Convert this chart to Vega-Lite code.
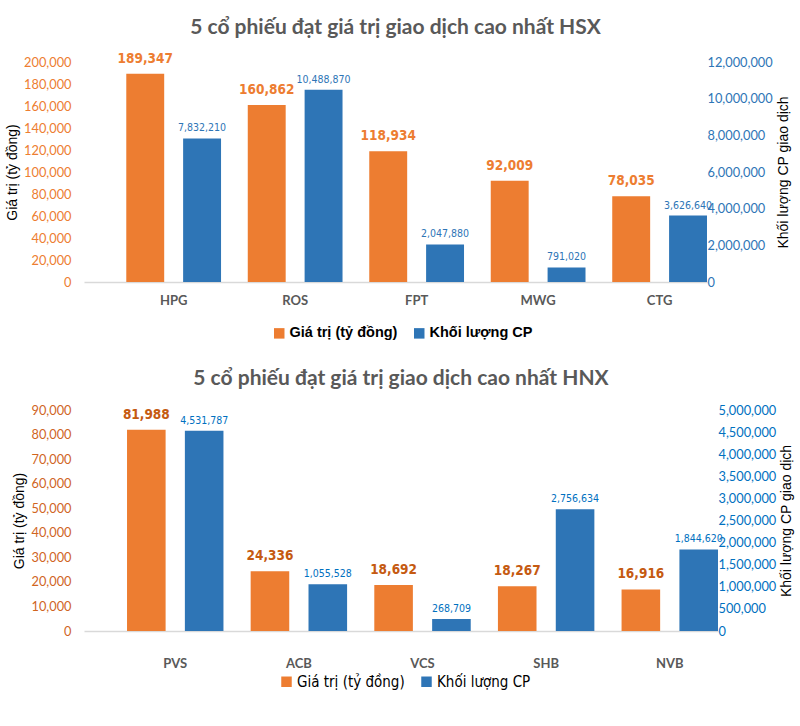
{
  "$schema": "https://vega.github.io/schema/vega-lite/v6.json",
  "background": "white",
  "padding": {"left": 5, "top": 16, "right": 5, "bottom": 5},
  "datasets": {
    "hsx": [
      {"ticker": "HPG", "series": "Giá trị (tỷ đồng)", "value": 189347},
      {"ticker": "HPG", "series": "Khối lượng CP", "value": 7832210},
      {"ticker": "ROS", "series": "Giá trị (tỷ đồng)", "value": 160862},
      {"ticker": "ROS", "series": "Khối lượng CP", "value": 10488870},
      {"ticker": "FPT", "series": "Giá trị (tỷ đồng)", "value": 118934},
      {"ticker": "FPT", "series": "Khối lượng CP", "value": 2047880},
      {"ticker": "MWG", "series": "Giá trị (tỷ đồng)", "value": 92009},
      {"ticker": "MWG", "series": "Khối lượng CP", "value": 791020},
      {"ticker": "CTG", "series": "Giá trị (tỷ đồng)", "value": 78035},
      {"ticker": "CTG", "series": "Khối lượng CP", "value": 3626640}
    ],
    "hnx": [
      {"ticker": "PVS", "series": "Giá trị (tỷ đồng)", "value": 81988},
      {"ticker": "PVS", "series": "Khối lượng CP", "value": 4531787},
      {"ticker": "ACB", "series": "Giá trị (tỷ đồng)", "value": 24336},
      {"ticker": "ACB", "series": "Khối lượng CP", "value": 1055528},
      {"ticker": "VCS", "series": "Giá trị (tỷ đồng)", "value": 18692},
      {"ticker": "VCS", "series": "Khối lượng CP", "value": 268709},
      {"ticker": "SHB", "series": "Giá trị (tỷ đồng)", "value": 18267},
      {"ticker": "SHB", "series": "Khối lượng CP", "value": 2756634},
      {"ticker": "NVB", "series": "Giá trị (tỷ đồng)", "value": 16916},
      {"ticker": "NVB", "series": "Khối lượng CP", "value": 1844620}
    ]
  },
  "config": {
    "view": {"stroke": null},
    "font": "Liberation Sans",
    "axis": {"grid": false, "ticks": false, "domain": false, "labelFont": "Lato", "labelFontSize": 12.8, "titleFont": "Liberation Sans", "titleFontWeight": "normal", "titleFontSize": 14, "titleColor": "#000000"},
    "title": {"font": "Lato", "fontSize": 21, "fontWeight": "bold", "color": "#595959", "anchor": "middle"}
  },
  "columns": 1,
  "align": "none",
  "spacing": 28,
  "resolve": {"scale": {"color": "independent", "x": "independent", "y": "independent", "xOffset": "independent"}},
  "concat": [
    {
      "title": {"text": "5 cổ phiếu đạt giá trị giao dịch cao nhất HSX", "offset": 14},
      "data": {"name": "hsx"},
      "width": 623,
      "height": 220,
      "encoding": {
        "x": {"field": "ticker", "type": "nominal", "sort": null,
          "scale": {"paddingInner": 0.22, "paddingOuter": 0.174, "align": 1},
          "axis": {"title": null, "labelAngle": 0, "domain": true, "domainColor": "#d9d9d9", "domainWidth": 1.5, "labelFontWeight": "bold", "labelColor": "#595959", "labelFontSize": 13, "labelPadding": 12}},
        "xOffset": {"field": "series", "type": "nominal", "sort": ["Giá trị (tỷ đồng)", "Khối lượng CP"], "scale": {"domain": ["Giá trị (tỷ đồng)", "Khối lượng CP"], "paddingInner": 0.333, "paddingOuter": 0}}
      },
      "layer": [
        {
          "transform": [{"filter": {"field": "series", "equal": "Giá trị (tỷ đồng)"}}],
          "encoding": {
            "y": {"field": "value", "type": "quantitative", "scale": {"domain": [0, 200000]},
              "axis": {"orient": "left", "title": "Giá trị (tỷ đồng)", "values": [0, 20000, 40000, 60000, 80000, 100000, 120000, 140000, 160000, 180000, 200000], "format": ",d", "labelColor": "#ED7D31", "labelPadding": 13, "titlePadding": 4}}
          },
          "layer": [
            {"mark": {"type": "bar"},
              "encoding": {"color": {"field": "series", "type": "nominal",
                "scale": {"domain": ["Giá trị (tỷ đồng)", "Khối lượng CP"], "range": ["#ED7D31", "#2E75B6"]},
                "legend": {"title": null, "orient": "none", "direction": "horizontal", "legendX": 188, "legendY": 264, "symbolType": "square", "symbolSize": 110, "symbolStrokeWidth": 0, "labelFont": "Liberation Sans", "labelFontWeight": "bold", "labelFontSize": 14.5, "labelColor": "#000000", "columnPadding": 14, "labelOffset": 3}}}},
            {"mark": {"type": "text", "dy": -15, "font": "DejaVu Sans Condensed, Roboto Condensed, Roboto, sans-serif", "fontWeight": "bold", "fontSize": 13.5},
              "encoding": {"text": {"field": "value", "type": "quantitative", "format": ","}, "color": {"value": "#ED7D31"}}}
          ]
        },
        {
          "transform": [{"filter": {"field": "series", "equal": "Khối lượng CP"}}],
          "encoding": {
            "y": {"field": "value", "type": "quantitative", "scale": {"domain": [0, 12000000]},
              "axis": {"orient": "right", "title": "Khối lượng CP giao dịch", "titleAngle": 270, "titleBaseline": "top", "values": [0, 2000000, 4000000, 6000000, 8000000, 10000000, 12000000], "format": ",d", "labelColor": "#2E75B6", "labelPadding": 0, "titlePadding": 4}}
          },
          "layer": [
            {"mark": {"type": "bar"},
              "encoding": {"color": {"field": "series", "type": "nominal", "scale": {"domain": ["Giá trị (tỷ đồng)", "Khối lượng CP"], "range": ["#ED7D31", "#2E75B6"]}}}},
            {"mark": {"type": "text", "dy": -10, "font": "DejaVu Sans Condensed, Roboto Condensed, Roboto, sans-serif", "fontSize": 10.5},
              "encoding": {"text": {"field": "value", "type": "quantitative", "format": ","}, "color": {"value": "#2E75B6"}}}
          ]
        }
      ],
      "resolve": {"scale": {"y": "independent"}}
    },
    {
      "title": {"text": "5 cổ phiếu đạt giá trị giao dịch cao nhất HNX", "offset": 15},
      "data": {"name": "hnx"},
      "width": 634,
      "height": 221,
      "encoding": {
        "x": {"field": "ticker", "type": "nominal", "sort": null,
          "scale": {"paddingInner": 0.22, "paddingOuter": 0.174, "align": 1},
          "axis": {"title": null, "labelAngle": 0, "domain": true, "domainColor": "#d9d9d9", "domainWidth": 1.5, "labelFontWeight": "bold", "labelColor": "#595959", "labelFontSize": 13, "labelPadding": 26}},
        "xOffset": {"field": "series", "type": "nominal", "sort": ["Giá trị (tỷ đồng)", "Khối lượng CP"], "scale": {"domain": ["Giá trị (tỷ đồng)", "Khối lượng CP"], "paddingInner": 0.333, "paddingOuter": 0}}
      },
      "layer": [
        {
          "transform": [{"filter": {"field": "series", "equal": "Giá trị (tỷ đồng)"}}],
          "encoding": {
            "y": {"field": "value", "type": "quantitative", "scale": {"domain": [0, 90000]},
              "axis": {"orient": "left", "title": "Giá trị (tỷ đồng)", "values": [0, 10000, 20000, 30000, 40000, 50000, 60000, 70000, 80000, 90000], "format": ",d", "labelColor": "#D0651F", "labelPadding": 13, "titlePadding": 4}}
          },
          "layer": [
            {"mark": {"type": "bar"},
              "encoding": {"color": {"field": "series", "type": "nominal",
                "scale": {"domain": ["Giá trị (tỷ đồng)", "Khối lượng CP"], "range": ["#ED7D31", "#2E75B6"]},
                "legend": {"title": null, "orient": "none", "direction": "horizontal", "legendX": 195, "legendY": 264, "symbolType": "square", "symbolSize": 110, "symbolStrokeWidth": 0, "labelFont": "DejaVu Sans Condensed, Roboto Condensed, Roboto, sans-serif", "labelFontSize": 15, "labelColor": "#000000", "columnPadding": 14, "labelOffset": 3}}}},
            {"mark": {"type": "text", "dy": -15, "font": "DejaVu Sans Condensed, Roboto Condensed, Roboto, sans-serif", "fontWeight": "bold", "fontSize": 13.5},
              "encoding": {"text": {"field": "value", "type": "quantitative", "format": ","}, "color": {"value": "#C55A11"}}}
          ]
        },
        {
          "transform": [{"filter": {"field": "series", "equal": "Khối lượng CP"}}],
          "encoding": {
            "y": {"field": "value", "type": "quantitative", "scale": {"domain": [0, 5000000]},
              "axis": {"orient": "right", "title": "Khối lượng CP giao dịch", "titleAngle": 270, "titleBaseline": "top", "values": [0, 500000, 1000000, 1500000, 2000000, 2500000, 3000000, 3500000, 4000000, 4500000, 5000000], "format": ",d", "labelColor": "#0070C0", "labelPadding": 0, "titlePadding": 4}}
          },
          "layer": [
            {"mark": {"type": "bar"},
              "encoding": {"color": {"field": "series", "type": "nominal", "scale": {"domain": ["Giá trị (tỷ đồng)", "Khối lượng CP"], "range": ["#ED7D31", "#2E75B6"]}}}},
            {"mark": {"type": "text", "dy": -10, "font": "DejaVu Sans Condensed, Roboto Condensed, Roboto, sans-serif", "fontSize": 10.5},
              "encoding": {"text": {"field": "value", "type": "quantitative", "format": ","}, "color": {"value": "#0070C0"}}}
          ]
        }
      ],
      "resolve": {"scale": {"y": "independent"}}
    }
  ]
}
